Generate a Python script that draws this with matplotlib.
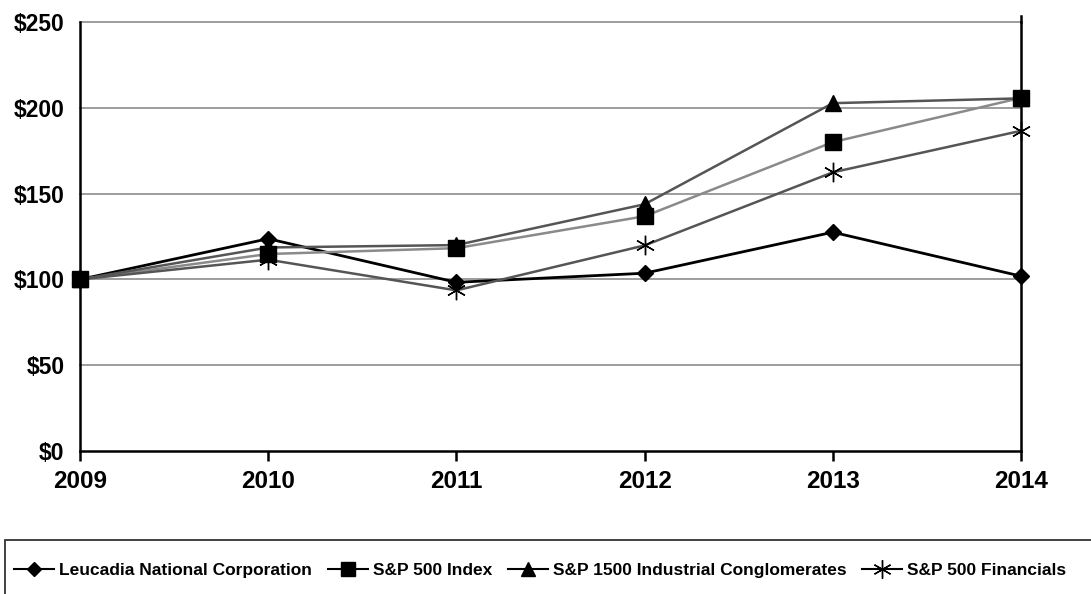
import matplotlib
matplotlib.use('Agg')
import matplotlib.pyplot as plt
from matplotlib.lines import Line2D
from matplotlib.patches import Rectangle

plt.rcParams['font.family'] = ['Liberation Sans', 'DejaVu Sans']
plt.rcParams['font.weight'] = 'bold'

years = [2009, 2010, 2011, 2012, 2013, 2014]
series_names = ['Leucadia National Corporation', 'S&P 500 Index',
                'S&P 1500 Industrial Conglomerates', 'S&P 500 Financials']
leucadia = [100, 123.7, 98.3, 103.6, 127.5, 101.9]
sp500 = [100, 114.8, 118.2, 136.8, 180.0, 205.8]
industrial = [100, 118.6, 120.0, 143.8, 202.7, 205.5]
financials = [100, 111.5, 93.6, 119.8, 162.4, 186.6]
y_ticks = [0, 50, 100, 150, 200, 250]

line_colors = ['#000000', '#8a8a8a', '#555555', '#555555']
line_widths = [2.0, 1.8, 1.8, 1.8]
markers = ['D', 's', '^', (6, 2, 0)]
marker_sizes = [8, 11, 11, 14]

fig = plt.figure(figsize=(10.91, 5.94), dpi=100)
ax = fig.add_axes([80 / 1091, 143 / 594, (1021 - 80) / 1091, 429 / 594])

for vals, c, lw, m, ms in zip([leucadia, sp500, industrial, financials],
                              line_colors, line_widths, markers, marker_sizes):
    ax.plot(years, vals, color=c, lw=lw, zorder=3)
    ax.plot(years, vals, ls='none', marker=m, markersize=ms,
            markerfacecolor='black', markeredgecolor='black',
            markeredgewidth=1.0, zorder=4, clip_on=False)

ax.set_xlim(2009, 2014)
ax.set_ylim(0, 250)
ax.set_xticks(years)
ax.set_xticklabels([str(y) for y in years], fontsize=17.5, fontweight='bold')
ax.set_yticks(y_ticks)
ax.set_yticklabels(['${}'.format(v) for v in y_ticks], fontsize=16.5, fontweight='bold')
ax.tick_params(axis='x', direction='out', length=7.5, width=1.8, pad=6)
ax.tick_params(axis='y', length=0, pad=11)

for v in y_ticks[1:]:
    ax.axhline(v, color='#8c8c8c', lw=1.2, zorder=1, clip_on=False)

ax.spines['top'].set_visible(False)
ax.spines['left'].set_linewidth(1.8)
ax.spines['bottom'].set_linewidth(1.8)
ax.spines['right'].set_linewidth(1.8)
ax.plot([1, 1], [1, 1.015], transform=ax.transAxes, color='black',
        lw=1.8, clip_on=False)

handles = [Line2D([], [], color='black', lw=1.5, marker=m,
                  markersize=ms * 0.95, markerfacecolor='black',
                  markeredgecolor='black', markeredgewidth=1.0)
           for m, ms in zip(markers, marker_sizes)]
fig.legend(handles, series_names, loc='center left',
           bbox_to_anchor=(14 / 1091, 1 - 570 / 594), ncol=4, frameon=False,
           handlelength=2.3, handletextpad=0.3,
           columnspacing=0.9, borderpad=0, borderaxespad=0,
           prop={'weight': 'bold', 'size': 12.5})

fig.add_artist(Rectangle((5 / 1091, -0.1), 1.2, 0.1 + 54 / 594,
                         transform=fig.transFigure, fill=False,
                         edgecolor='#333333', lw=1.3))

fig.savefig('out.png', dpi=100)
